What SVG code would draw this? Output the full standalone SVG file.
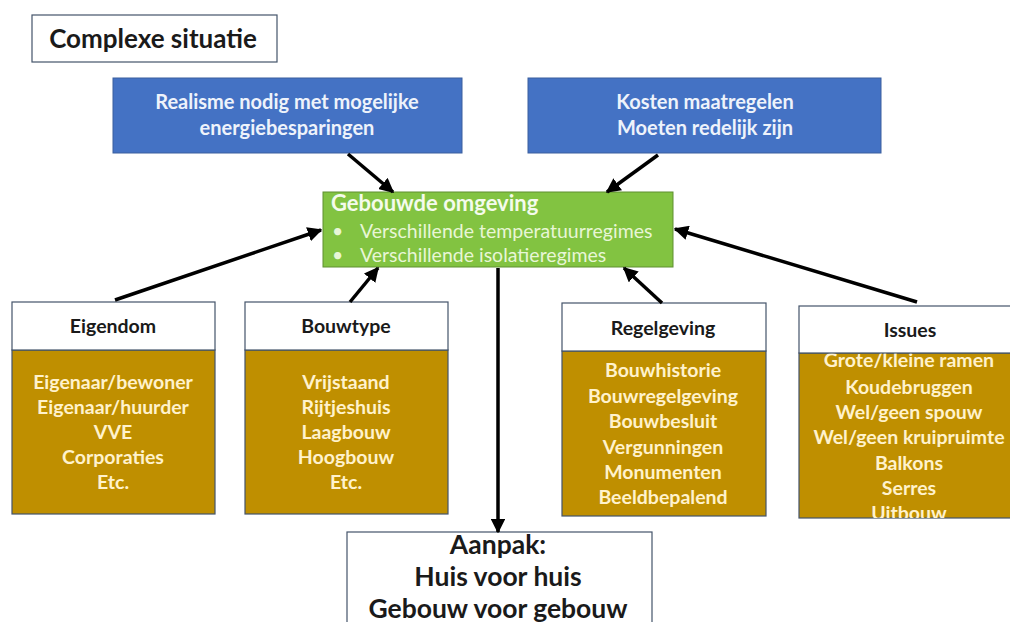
<svg xmlns="http://www.w3.org/2000/svg" width="1010" height="622" viewBox="0 0 1010 622">
<defs>
<marker id="ah" viewBox="0 0 10 10" refX="9" refY="5" markerWidth="4.2" markerHeight="4.2" orient="auto" markerUnits="strokeWidth">
<path d="M0,0 L10,5 L0,10 Z" fill="#000"/>
</marker>
<clipPath id="issuesClip"><rect x="799" y="306" width="222" height="212"/></clipPath>
</defs>
<style>
text{font-family:Lato,"Open Sans","Liberation Sans",sans-serif;text-anchor:middle}
.white{fill:#fff;stroke:#44546a;stroke-width:1.2}
.blue{fill:#4472c4;stroke:#3a5f9e;stroke-width:1}
.green{fill:#82c341;stroke:#5f8f30;stroke-width:1}
.gold{fill:#bf8f00;stroke:#44546a;stroke-width:1.2}
.hdr{font-size:19.5px;font-weight:bold;fill:#1a1a1a}
.blt{font-size:20px;font-weight:bold;fill:#eef3fb}
.body{font-size:19.5px;font-weight:bold;fill:#fff2cc}
.big{font-size:26.5px;font-weight:bold;fill:#1a1a1a}
.gl{text-anchor:start;font-size:19.5px;fill:#e8f6d6}
.conn{stroke:#000;stroke-width:3.5;fill:none;marker-end:url(#ah)}
</style>
<rect width="1010" height="622" fill="#fff"/>
<g id="title">
<rect class="white" x="32" y="15" width="245" height="47"/>
<text x="153" y="48" style="font-size:26px;font-weight:bold;fill:#1a1a1a">Complexe situatie</text>
</g>
<g id="realisme">
<rect class="blue" x="113" y="78" width="349" height="75"/>
<text class="blt" x="287" y="109">Realisme nodig met mogelijke</text>
<text class="blt" x="287" y="135">energiebesparingen</text>
</g>
<g id="kosten">
<rect class="blue" x="528" y="78" width="353" height="75"/>
<text class="blt" x="705" y="109">Kosten maatregelen</text>
<text class="blt" x="705" y="135">Moeten redelijk zijn</text>
</g>
<g id="gebouwde">
<rect class="green" x="323" y="192" width="350" height="75"/>
<text x="331" y="211" style="text-anchor:start;font-size:22px;font-weight:bold;fill:#f4fbec">Gebouwde omgeving</text>
<text class="gl" x="332" y="238">•</text>
<text class="gl" x="360" y="238">Verschillende temperatuurregimes</text>
<text class="gl" x="332" y="262">•</text>
<text class="gl" x="360" y="262">Verschillende isolatieregimes</text>
</g>
<g id="eigendom">
<rect class="gold" x="12" y="350" width="203" height="164"/>
<rect class="white" x="12" y="302" width="203" height="48"/>
<text class="hdr" x="113" y="333">Eigendom</text>
<text class="body" x="113" y="389">Eigenaar/bewoner</text>
<text class="body" x="113" y="414">Eigenaar/huurder</text>
<text class="body" x="113" y="439">VVE</text>
<text class="body" x="113" y="464">Corporaties</text>
<text class="body" x="113" y="489">Etc.</text>
</g>
<g id="bouwtype">
<rect class="gold" x="245" y="350" width="203" height="164"/>
<rect class="white" x="245" y="302" width="203" height="48"/>
<text class="hdr" x="346" y="333">Bouwtype</text>
<text class="body" x="346" y="389">Vrijstaand</text>
<text class="body" x="346" y="414">Rijtjeshuis</text>
<text class="body" x="346" y="439">Laagbouw</text>
<text class="body" x="346" y="464">Hoogbouw</text>
<text class="body" x="346" y="489">Etc.</text>
</g>
<g id="regelgeving">
<rect class="gold" x="562" y="351" width="204" height="165"/>
<rect class="white" x="562" y="303" width="204" height="48"/>
<text class="hdr" x="663" y="335">Regelgeving</text>
<text class="body" x="663" y="377">Bouwhistorie</text>
<text class="body" x="663" y="403">Bouwregelgeving</text>
<text class="body" x="663" y="428">Bouwbesluit</text>
<text class="body" x="663" y="454">Vergunningen</text>
<text class="body" x="663" y="479">Monumenten</text>
<text class="body" x="663" y="504">Beeldbepalend</text>
</g>
<g id="issues">
<rect class="gold" x="799" y="353" width="222" height="165"/>
<g clip-path="url(#issuesClip)">
<text class="body" x="909" y="367">Grote/kleine ramen</text>
<text class="body" x="909" y="394">Koudebruggen</text>
<text class="body" x="909" y="419">Wel/geen spouw</text>
<text class="body" x="909" y="444">Wel/geen kruipruimte</text>
<text class="body" x="909" y="470">Balkons</text>
<text class="body" x="909" y="495">Serres</text>
<text class="body" x="909" y="520">Uitbouw</text>
</g>
<rect class="white" x="799" y="306" width="222" height="47"/>
<text class="hdr" x="910" y="337">Issues</text>
</g>
<g id="aanpak">
<rect class="white" x="347" y="532" width="305" height="100"/>
<text class="big" x="498" y="554">Aanpak:</text>
<text class="big" x="498" y="586">Huis voor huis</text>
<text class="big" x="498" y="618">Gebouw voor gebouw</text>
</g>
<g id="connectors">
<line class="conn" x1="348" y1="154" x2="393" y2="192"/>
<line class="conn" x1="658" y1="155" x2="607" y2="192"/>
<line class="conn" x1="115" y1="300" x2="321" y2="230"/>
<line class="conn" x1="350" y1="302" x2="378" y2="268"/>
<line class="conn" x1="662" y1="303" x2="624" y2="268"/>
<line class="conn" x1="917" y1="302" x2="675" y2="229"/>
<line class="conn" x1="498" y1="268" x2="498" y2="532"/>
</g>
</svg>
